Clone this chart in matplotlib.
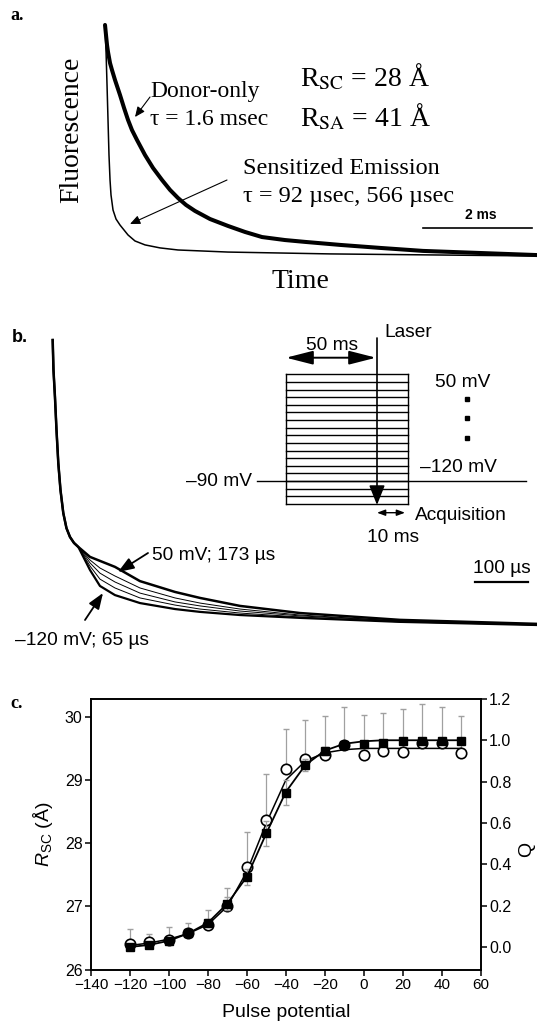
import numpy as np
import matplotlib.pyplot as plt

plt.rcParams['font.family'] = ['Liberation Sans', 'DejaVu Sans']
plt.rcParams['mathtext.fontset'] = 'custom'
plt.rcParams['mathtext.rm'] = 'Liberation Sans'
plt.rcParams['mathtext.it'] = 'Liberation Sans:italic'
SERIF = ['Liberation Serif', 'DejaVu Serif']

# ---- panel a: normalized decays (time in ms) ----
donor_t = [0, 0.018, 0.037, 0.055, 0.092, 0.128, 0.183, 0.275, 0.349, 0.422,
           0.495, 0.587, 0.734, 0.881, 1.046, 1.193, 1.339, 1.486, 1.651,
           1.927, 2.257, 2.569, 2.881, 3.303, 3.670, 4.312, 5.046, 5.835,
           6.881, 7.927]
donor_f = [1.0, 0.957, 0.913, 0.883, 0.835, 0.805, 0.762, 0.697, 0.641, 0.589,
           0.545, 0.502, 0.437, 0.381, 0.329, 0.286, 0.251, 0.221, 0.195,
           0.160, 0.130, 0.104, 0.082, 0.069, 0.061, 0.048, 0.035, 0.022,
           0.013, 0.004]
sens_t = [0, 0.018, 0.037, 0.055, 0.073, 0.092, 0.110, 0.147, 0.202, 0.275,
          0.422, 0.550, 0.734, 1.009, 1.339, 2.257, 4.128, 7.927]
sens_f = [1.0, 0.892, 0.740, 0.589, 0.437, 0.329, 0.264, 0.199, 0.160, 0.134,
          0.091, 0.065, 0.048, 0.035, 0.026, 0.017, 0.009, 0.0]

# ---- panel b: sensitized emission at several pulse potentials (time in us) ----
b_t = [0, 1.5, 4.3, 7.2, 10.6, 14.7, 20, 26, 32.6, 40.2, 48.3,
       70.4, 89.2, 117.5, 164.7, 230.8, 278, 353.4, 466.6, 655.3, 913.8]
b_head = [1.0, 0.895, 0.8, 0.684, 0.568, 0.474, 0.393, 0.340, 0.309, 0.288, 0.274]
trace_50mv = [0.239, 0.225, 0.204, 0.154, 0.116, 0.095, 0.067, 0.042, 0.018, 0.004]
trace_m1 = [0.228, 0.200, 0.172, 0.130, 0.095, 0.077, 0.056, 0.035, 0.014, 0.004]
trace_m2 = [0.218, 0.182, 0.151, 0.112, 0.081, 0.067, 0.049, 0.032, 0.014, 0.0]
trace_m3 = [0.207, 0.161, 0.130, 0.095, 0.070, 0.056, 0.042, 0.028, 0.011, 0.0]
trace_120mv = [0.193, 0.137, 0.105, 0.077, 0.056, 0.046, 0.035, 0.025, 0.011, 0.0]

# ---- panel c ----
potentials = [-120, -110, -100, -90, -80, -70, -60, -50, -40, -30, -20, -10,
              0, 10, 20, 30, 40, 50]
rsc = [26.40, 26.43, 26.47, 26.57, 26.70, 27.00, 27.63, 28.37, 29.18, 29.33,
       29.39, 29.56, 29.39, 29.46, 29.44, 29.58, 29.58, 29.43]
rsc_err = [0.24, 0.13, 0.21, 0.17, 0.24, 0.29, 0.54, 0.72, 0.62, 0.62, 0.62,
           0.59, 0.64, 0.60, 0.68, 0.62, 0.58, 0.58]
rsc_fit = [26.38, 26.42, 26.48, 26.57, 26.71, 27.0, 27.55, 28.32, 29.0, 29.3,
           29.43, 29.48, 29.5, 29.5, 29.5, 29.5, 29.5, 29.5]
q = [0.0, 0.01, 0.03, 0.066, 0.117, 0.21, 0.338, 0.55, 0.747, 0.88, 0.947,
     0.978, 0.982, 0.986, 0.994, 0.994, 0.994, 0.997]
q_err = [0.01, 0.01, 0.01, 0.01, 0.02, 0.03, 0.04, 0.06, 0.06, 0.03, 0.02,
         0.01, 0.01, 0.01, 0.01, 0.01, 0.01, 0.01]
q_fit = [0.0, 0.01, 0.03, 0.066, 0.117, 0.21, 0.34, 0.55, 0.75, 0.88, 0.95,
         0.983, 0.995, 1.0, 1.0, 1.0, 1.0, 1.0]

W, H = 537, 1025
fig = plt.figure(figsize=(W / 100, H / 100), dpi=100)


def box(x0, y0, x1, y1):
    # pixel box (top-left origin) -> figure fraction rect
    return [x0 / W, 1 - y1 / H, (x1 - x0) / W, (y1 - y0) / H]


# panel a traces
ax_a = fig.add_axes(box(0, 0, W, 300))
ax_a.plot(donor_t, donor_f, color='k', lw=2.9, solid_capstyle='round',
          solid_joinstyle='round')
ax_a.plot(sens_t, sens_f, color='k', lw=1.1, solid_joinstyle='round')
ax_a.set_xlim(-1.927, 7.927)
ax_a.set_ylim(-0.1905, 1.108)
ax_a.axis('off')

# panel b traces
ax_b = fig.add_axes(box(0, 300, W, 640))
for tr, lw in [(trace_m1, 0.7), (trace_m2, 0.7), (trace_m3, 0.7),
               (trace_120mv, 1.6), (trace_50mv, 1.8)]:
    ax_b.plot(b_t, b_head + tr, color='k', lw=lw, solid_joinstyle='round')
ax_b.set_xlim(-99.4, 913.8)
ax_b.set_ylim(-0.0526, 1.1404)
ax_b.axis('off')

# panel c
ax = fig.add_axes(box(91, 698.5, 480.7, 969.5))
ax2 = ax.twinx()
ax.errorbar(potentials, rsc, yerr=[np.zeros(len(rsc)), rsc_err], fmt='none',
            ecolor='#a0a0a0', elinewidth=0.9, capsize=2, zorder=1)
ax.plot(potentials, rsc_fit, color='k', lw=1.1, zorder=2)
ax.plot(potentials, rsc, 'o', ms=7.5, mfc='white', mec='k', mew=1.2, zorder=3)
ax2.errorbar(potentials, q, yerr=q_err, fmt='none', ecolor='#a0a0a0',
             elinewidth=0.9, capsize=2, zorder=1)
ax2.plot(potentials, q_fit, color='k', lw=1.3, zorder=2)
ax2.plot(potentials, q, 's', ms=5.8, mfc='k', mec='k', zorder=3)

ax.set_xlim(-140, 60)
ax.set_ylim(26, 30.29)
ax2.set_ylim(-0.109, 1.202)
ax.set_xticks(range(-140, 61, 20))
ax.set_yticks([26, 27, 28, 29, 30])
ax2.set_yticks(np.arange(0, 1.21, 0.2))
ax2.set_yticklabels([f'{v:.1f}' for v in np.arange(0, 1.21, 0.2)])
for a in (ax, ax2):
    a.tick_params(direction='out', length=4, width=1.1, labelsize=11.5, pad=2)
    for s in a.spines.values():
        s.set_linewidth(1.2)
ax.tick_params(axis='x', labelsize=11)
ax.set_xlabel('Pulse potential', fontsize=14, labelpad=9)
ax.set_ylabel(r'$R_{\mathrm{SC}}$ (Å)', fontsize=14)
ax.yaxis.set_label_coords(-0.092, 0.5)
ax2.set_ylabel('Q', fontsize=14)
ax2.yaxis.set_label_coords(1.097, 0.443)

# overlay in pixel coordinates for annotations and the pulse schematic
page = fig.add_axes([0, 0, 1, 1])
page.set_xlim(0, W)
page.set_ylim(H, 0)
page.axis('off')
page.patch.set_visible(False)


def arrow(tail, head, style, lw=1.0, ms=12):
    page.annotate('', xy=head, xytext=tail,
                  arrowprops=dict(arrowstyle=style, lw=lw, color='k',
                                  mutation_scale=ms, shrinkA=0, shrinkB=0))


# panel a text
page.text(10, 20, 'a.', family=SERIF, weight='bold', fontsize=13)
page.text(72, 130, 'Fluorescence', family=SERIF, fontsize=20, rotation=90,
          ha='center', va='center')
page.text(300.6, 288, 'Time', family=SERIF, fontsize=20, ha='center')
page.text(150, 96.5, 'Donor-only', family=SERIF, fontsize=17)
page.text(150, 125, 'τ = 1.6 msec', family=SERIF, fontsize=17)
page.text(300, 86, r'R$_{\mathrm{SC}}$ = 28 Å', family=SERIF, fontsize=20,
          math_fontfamily='stix')
page.text(300, 126, r'R$_{\mathrm{SA}}$ = 41 Å', family=SERIF, fontsize=20,
          math_fontfamily='stix')
page.text(243, 174, 'Sensitized Emission', family=SERIF, fontsize=17.5)
page.text(243, 201.7, 'τ = 92 µsec, 566 µsec', family=SERIF, fontsize=17.5)
arrow((150, 97), (135, 117), '-|>,head_length=0.5,head_width=0.22', lw=0.8)
arrow((227, 180), (130, 224), '-|>,head_length=0.5,head_width=0.22', lw=0.8)
page.plot([423, 532], [228, 228], color='k', lw=1.2)
page.text(481, 215, '2 ms', fontsize=10, weight='bold', ha='center', va='center')

# panel b text
page.text(12, 341.7, 'b.', fontsize=13, weight='bold')
FS = 13.8
page.text(152, 560, '50 mV; 173 µs', fontsize=FS)
page.text(15, 645, '–120 mV; 65 µs', fontsize=FS)
arrow((148, 553), (118, 572), '-|>,head_length=0.8,head_width=0.3', lw=1.3)
arrow((85, 620), (103, 593), '-|>,head_length=0.8,head_width=0.3', lw=1.3)
page.plot([475, 528], [582, 582], color='k', lw=1.6)
page.text(502, 573.3, '100 µs', fontsize=FS, ha='center')

# pulse schematic: one line per pulse potential
bx0, bx1, by_top, by_bot = 286, 407.7, 374.3, 504
v_lo, v_hi = min(potentials), max(potentials)


def vy(v):
    return by_bot - (v - v_lo) * (by_bot - by_top) / (v_hi - v_lo)


for v in potentials:
    page.plot([bx0, bx1], [vy(v), vy(v)], color='k', lw=1.0)
page.plot([bx0, bx0], [by_top, by_bot], color='k', lw=1.0)
page.plot([bx1, bx1], [by_top, by_bot], color='k', lw=1.0)
page.plot([257, 526], [vy(-90), vy(-90)], color='k', lw=1.0)
page.text(252, 486, '–90 mV', fontsize=FS, ha='right')
arrow((377, 338), (377, 505), '-|>,head_length=0.8,head_width=0.32', lw=1.2, ms=15)
page.text(384, 337.3, 'Laser', fontsize=FS)
arrow((286, 357.7), (376, 357.7), '<|-|>,head_length=1.1,head_width=0.28', lw=1.4, ms=15)
page.text(332.5, 350.5, '50 ms', fontsize=FS, ha='center')
page.text(435, 386.7, '50 mV', fontsize=FS)
page.plot([466.7] * 3, [399, 418.3, 438.3], 's', color='k', ms=2.5)
page.text(420, 471.7, '–120 mV', fontsize=FS)
arrow((377, 512.7), (405, 512.7), '<|-|>,head_length=0.4,head_width=0.15', lw=1.0)
page.text(415, 520, 'Acquisition', fontsize=FS)
page.text(366.7, 541.7, '10 ms', fontsize=FS)

# panel c label
page.text(10, 708.3, 'c.', family=SERIF, weight='bold', fontsize=13)

fig.savefig('out.png', dpi=100)
